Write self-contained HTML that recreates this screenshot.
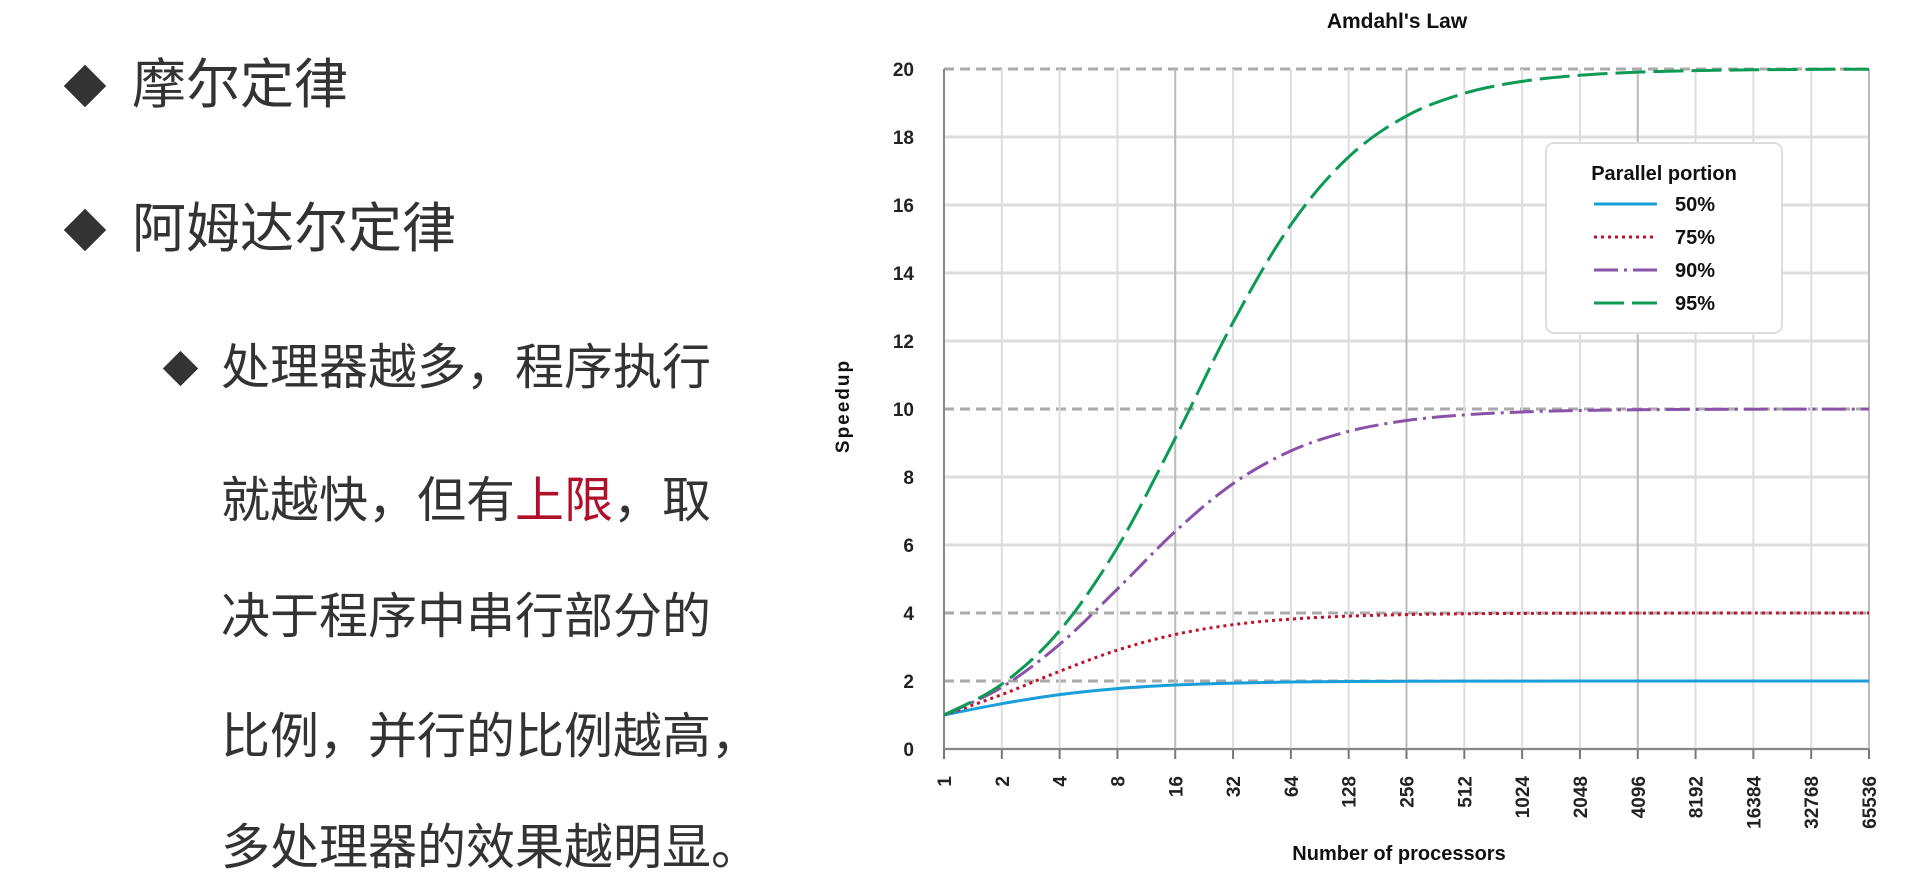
<!DOCTYPE html>
<html><head><meta charset="utf-8"><style>
html,body{margin:0;padding:0;background:#fff;width:1928px;height:891px;overflow:hidden}
.t{position:absolute;font-family:"Liberation Sans","Noto Sans CJK SC",sans-serif;color:#333;white-space:nowrap;line-height:1}
.d{position:absolute;width:30px;height:30px;background:#333;transform:rotate(45deg)}
</style></head><body>
<div class="d" style="left:70px;top:71px"></div>
<div class="t" style="left:132px;top:58px;font-size:54px">摩尔定律</div>
<div class="d" style="left:70px;top:215px"></div>
<div class="t" style="left:132px;top:202px;font-size:54px">阿姆达尔定律</div>
<div class="d" style="left:168px;top:356px;width:25px;height:25px"></div>
<div class="t" style="left:221px;top:344px;font-size:49px">处理器越多，程序执行</div>
<div class="t" style="left:221px;top:477px;font-size:49px">就越快，但有<span style="color:#b0102a">上限</span>，取</div>
<div class="t" style="left:221px;top:593px;font-size:49px">决于程序中串行部分的</div>
<div class="t" style="left:221px;top:713px;font-size:49px">比例，并行的比例越高，</div>
<div class="t" style="left:221px;top:824px;font-size:49px">多处理器的效果越明显。</div>
<svg id="s" width="1928" height="891" style="position:absolute;left:0;top:0" font-family="Liberation Sans, sans-serif"></svg>
<script>
var s=document.getElementById('s'),h='';
var L=944,R=1869,T=69,B=749,st=(R-L)/16;
function X(i){return L+i*st}function Y(v){return B-v*(B-T)/20}
for(var v=0;v<=20;v+=2){var g=[2,4,10,20].indexOf(v)>=0;
h+='<line x1="'+L+'" x2="'+R+'" y1="'+Y(v)+'" y2="'+Y(v)+'" stroke="'+(g?'#aaa':'#ddd')+'" stroke-width="3" '+(g?'stroke-dasharray="10,6"':'')+'/>';
h+='<text x="914" y="'+(Y(v)+7)+'" font-size="19" font-weight="bold" text-anchor="end" fill="#222">'+v+'</text>';}
for(var i=0;i<=16;i++){var x=X(i);h+='<line x1="'+x+'" x2="'+x+'" y1="'+T+'" y2="'+B+'" stroke="'+(i%4==0&&i>0?'#bbb':'#ddd')+'" stroke-width="2"/>';
h+='<line x1="'+x+'" x2="'+x+'" y1="'+B+'" y2="'+(B+10)+'" stroke="#777" stroke-width="2"/>';
h+='<text transform="translate('+(x+7)+',776) rotate(-90)" font-size="19" font-weight="bold" text-anchor="end" fill="#222">'+Math.pow(2,i)+'</text>';}
h+='<line x1="'+L+'" x2="'+L+'" y1="'+T+'" y2="'+B+'" stroke="#888" stroke-width="2"/>';
h+='<line x1="'+L+'" x2="'+R+'" y1="'+B+'" y2="'+B+'" stroke="#888" stroke-width="2"/>';
var ser=[[.5,'#1a9ed9',''],[.75,'#c0102a','3,4'],[.9,'#8a52a8','24,6,3,6'],[.95,'#0c9a55','30,8']];
ser.forEach(function(q){var p=q[0],P=[];for(var i=0;i<=16;i++){var n=Math.pow(2,i);P.push([X(i),Y(1/((1-p)+p/n))]);}
var d='M'+P[0][0]+','+P[0][1];
for(var i=0;i<16;i++){var p0=P[Math.max(0,i-1)],p1=P[i],p2=P[i+1],p3=P[Math.min(16,i+2)];
var c1=[p1[0]+(p2[0]-p0[0])/6,p1[1]+(p2[1]-p0[1])/6],c2=[p2[0]-(p3[0]-p1[0])/6,p2[1]-(p3[1]-p1[1])/6];
d+='C'+c1[0].toFixed(1)+','+c1[1].toFixed(1)+' '+c2[0].toFixed(1)+','+c2[1].toFixed(1)+' '+p2[0].toFixed(1)+','+p2[1].toFixed(1);}
h+='<path d="'+d+'" fill="none" stroke="'+q[1]+'" stroke-width="3" stroke-dasharray="'+q[2]+'"/>';});
h+='<rect x="1546" y="143" width="236" height="190" rx="8" fill="#fff" stroke="#ddd" stroke-width="2"/>';
h+='<text x="1664" y="180" font-size="20" font-weight="bold" text-anchor="middle" fill="#111">Parallel portion</text>';
ser.forEach(function(q,k){var y=204+k*33;h+='<line x1="1594" x2="1657" y1="'+y+'" y2="'+y+'" stroke="'+q[1]+'" stroke-width="3" stroke-dasharray="'+q[2]+'"/>';
h+='<text x="1675" y="'+(y+7)+'" font-size="20" font-weight="bold" fill="#111">'+(q[0]*100)+'%</text>';});
h+='<text x="1397" y="28" font-size="21" font-weight="bold" text-anchor="middle" fill="#111">Amdahl\'s Law</text>';
h+='<text x="1399" y="860" font-size="20" font-weight="bold" text-anchor="middle" fill="#111">Number of processors</text>';
h+='<text transform="translate(849,406) rotate(-90)" font-size="19" font-weight="bold" text-anchor="middle" fill="#111" letter-spacing="2">Speedup</text>';
s.innerHTML=h;
</script>
</body></html>
